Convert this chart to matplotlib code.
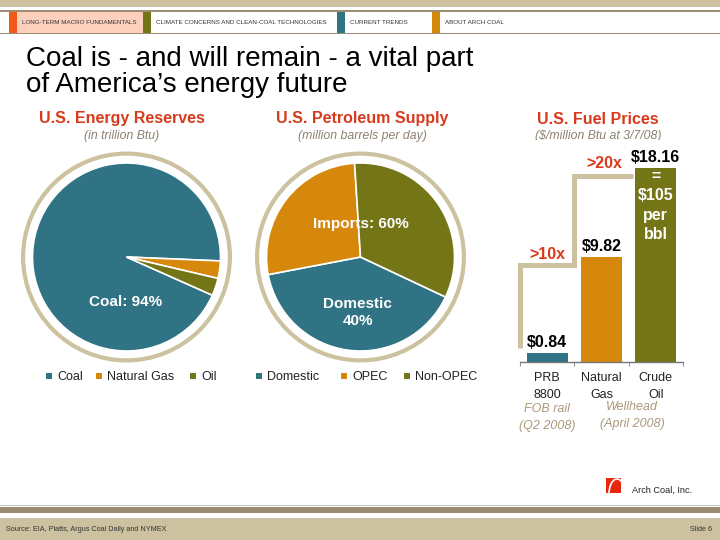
import matplotlib.pyplot as plt
from matplotlib.patches import Rectangle, Circle, Arc
import numpy as np

plt.rcParams['font.family'] = ['Liberation Sans', 'DejaVu Sans']

# ---- data ----
reserve_labels = ['Coal', 'Natural Gas', 'Oil']
reserve_share = [94, 3, 3]

supply_labels = ['Domestic', 'OPEC', 'Non-OPEC']
supply_share = [40, 27, 33]

fuel_names = ['PRB\n8800', 'Natural\nGas', 'Crude\nOil']
fuel_prices = [0.84, 9.82, 18.16]
multiples = ['>10x', '>20x']

nav_tabs = ['LONG-TERM MACRO FUNDAMENTALS', 'CLIMATE CONCERNS AND CLEAN-COAL TECHNOLOGIES',
            'CURRENT TRENDS', 'ABOUT ARCH COAL']

# ---- colours ----
TEAL = '#2f7384'
ORANGE = '#d6880c'
OLIVE = '#737516'
TAN = '#ccc2a0'
DARKTAN = '#9a8d70'
RED = '#d83a1c'
SUBGREY = '#8c8070'
NOTE = '#a8997a'

W, H = 720, 540
fig = plt.figure(figsize=(7.2, 5.4), dpi=100)

# background axes in pixel coords
bg = fig.add_axes([0, 0, 1, 1])
bg.set_xlim(0, W)
bg.set_ylim(H, 0)
bg.axis('off')

# top band and navigation
bg.add_patch(Rectangle((0, 0), W, 7, color=TAN, lw=0))
bg.add_patch(Rectangle((0, 10), W, 1.5, color=DARKTAN, lw=0))
bg.add_patch(Rectangle((0, 33), W, 1.2, color=DARKTAN, lw=0))
bg.add_patch(Rectangle((17, 11.5), 126, 21.5, color='#fdd0bd', lw=0))
markers = [(9, '#f25a1a'), (143, OLIVE), (337, TEAL), (432, ORANGE)]
for (mx, mc), tab in zip(markers, nav_tabs):
    bg.add_patch(Rectangle((mx, 11.5), 8, 21.5, color=mc, lw=0))
    bg.text(mx + 13, 22.5, tab, fontsize=4.5, color='#333333', va='center', ha='left')

# title
bg.text(26, 72, "Coal is - and will remain - a vital part\nof America\u2019s energy future",
        fontsize=20, color='black', va='center', ha='left', linespacing=0.96)

# section headings
for cx, head, sub in [(122, 'U.S. Energy Reserves', '(in trillion Btu)'),
                      (362, 'U.S. Petroleum Supply', '(million barrels per day)'),
                      (598, 'U.S. Fuel Prices', '($/million Btu at 3/7/08)')]:
    bg.text(cx, 119, head, fontsize=11.5, fontweight='bold', color=RED, ha='center', va='center')
    bg.text(cx, 136, sub, fontsize=8.8, style='italic', color=SUBGREY, ha='center', va='center')


def draw_pie(cx, cy, values, colors, startangle):
    r_px = 94
    half = 112
    ax = fig.add_axes([(cx - half) / W, (H - cy - half) / H, 2 * half / W, 2 * half / H])
    ax.pie(values, colors=colors, startangle=startangle, counterclock=False,
           wedgeprops=dict(edgecolor='white', linewidth=1.2))
    lim = half / r_px
    ax.set_xlim(-lim, lim)
    ax.set_ylim(-lim, lim)
    ax.add_patch(Circle((0, 0), 1.10, fill=False, edgecolor=TAN, lw=3.0, clip_on=False))
    ax.set_aspect('equal')
    ax.axis('off')
    return ax


pie_colors = [TEAL, ORANGE, OLIVE]
ax1 = draw_pie(126.5, 257, reserve_share, pie_colors, -24)
ax1.text(-0.01, -0.48, 'Coal: %d%%' % reserve_share[0], color='white', fontsize=11,
         fontweight='bold', ha='center', va='center')

ax2 = draw_pie(360.5, 257, supply_share, pie_colors, -25.2)
ax2.text(0.0, 0.35, 'Imports: %d%%' % (supply_share[1] + supply_share[2]), color='white',
         fontsize=11, fontweight='bold', ha='center', va='center')
ax2.text(-0.03, -0.59, 'Domestic\n%d%%' % supply_share[0], color='white', fontsize=11,
         fontweight='bold', ha='center', va='center', linespacing=1.3)

# pie legends
legend_items = [(reserve_labels, [49, 99, 193]), (supply_labels, [259, 344, 407])]
for labels, xs in legend_items:
    for lab, x, c in zip(labels, xs, pie_colors):
        bg.add_patch(Rectangle((x - 3, 373), 6, 6, color=c, lw=0))
        bg.text(x + 8, 376.5, lab, fontsize=9, color='#222222', va='center', ha='left')

# ---- bar chart ----
base_y, top_y, left_x, right_x = 362, 140, 520, 683
px_per_unit = 10.68
axb = fig.add_axes([left_x / W, 1 - base_y / H, (right_x - left_x) / W, (base_y - top_y) / H])
x = np.arange(len(fuel_prices))
bw = 0.75
axb.bar(x, fuel_prices, width=bw, color=pie_colors)
axb.set_xlim(-0.5, len(x) - 0.5)
axb.set_ylim(0, (base_y - top_y) / px_per_unit)
for s in ['top', 'left', 'right']:
    axb.spines[s].set_visible(False)
axb.spines['bottom'].set_color('#777777')
axb.spines['bottom'].set_linewidth(1)
axb.set_yticks([])
axb.set_xticks(x)
axb.set_xticklabels(fuel_names, fontsize=9, color='#222222', linespacing=1.5)
axb.tick_params(axis='x', which='major', length=0, pad=7.5)
axb.set_xticks(np.arange(-0.5, len(x)), minor=True)
axb.tick_params(axis='x', which='minor', length=3, direction='out', color='#777777')

for xi, v in zip(x, fuel_prices):
    axb.annotate('$%.2f' % v, (xi, v), xytext=(0, 2.5), textcoords='offset points',
                 ha='center', va='bottom', fontsize=11.5, fontweight='bold', color='black')
axb.text(x[2], fuel_prices[2] - 3.5, '=\n$105\nper\nbbl', color='white', fontsize=11.5,
         fontweight='bold', ha='center', va='center', linespacing=1.38)

# step line showing the multiples
gap = 0.7
lv = [fuel_prices[0] + 0.45, fuel_prices[1] - gap, fuel_prices[2] - gap]
sx = [-0.5, -0.5, 0.5, 0.5, x[2] - bw / 2 - 0.05]
sy = [lv[0], lv[1], lv[1], lv[2], lv[2]]
axb.plot(sx, sy, color=TAN, lw=3.6, solid_joinstyle='miter', solid_capstyle='butt',
         clip_on=False, zorder=1)
axb.text(0.0, lv[1] + 0.95, multiples[0], color=RED, fontsize=11.5, fontweight='bold',
         ha='center', va='center')
axb.text(1.06, lv[2] + 1.15, multiples[1], color=RED, fontsize=11.5, fontweight='bold',
         ha='center', va='center')

# notes under the categories
xf = axb.get_xaxis_transform()
axb.annotate('FOB rail\n(Q2 2008)', (0, 0), xycoords=xf, xytext=(0, -40),
             textcoords='offset points', ha='center', va='center', fontsize=9,
             style='italic', color=NOTE, linespacing=1.5, annotation_clip=False)
axb.annotate('Wellhead\n(April 2008)', (1.56, 0), xycoords=xf, xytext=(0, -38.5),
             textcoords='offset points', ha='center', va='center', fontsize=9,
             style='italic', color=NOTE, linespacing=1.5, annotation_clip=False)

# logo
bg.add_patch(Rectangle((606, 478), 15, 15, color='#e8280e', lw=0))
bg.add_patch(Arc((617, 494), 16, 30, theta1=185, theta2=330, color='white', lw=1.2))
bg.text(632, 490, 'Arch Coal, Inc.', fontsize=6.6, color='#222222', va='center', ha='left')

# footer
bg.add_patch(Rectangle((0, 504.5), W, 1, color='#c8c8c8', lw=0))
bg.add_patch(Rectangle((0, 506.5), W, 6.5, color=DARKTAN, lw=0))
bg.add_patch(Rectangle((0, 517.5), W, 22.5, color=TAN, lw=0))
bg.text(6, 529.5, 'Source: EIA, Platts, Argus Coal Daily and NYMEX', fontsize=5.2,
        color='#333333', va='center', ha='left')
bg.text(712, 529.5, 'Slide 6', fontsize=5.2, color='#333333', va='center', ha='right')

fig.savefig('out.png', dpi=100)
plt.close(fig)
